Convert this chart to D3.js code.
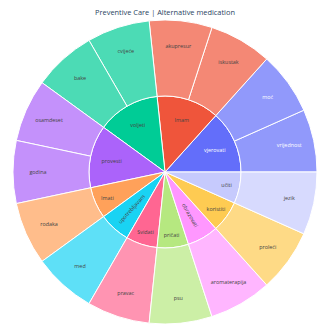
<!DOCTYPE html>
<html>
<head>
<meta charset="utf-8">
<script src="https://cdn.jsdelivr.net/npm/d3@7"></script>
<style>
    body { margin: 0; background: #fff; }
    svg { display: block; font-family: "Open Sans", verdana, arial, sans-serif; }
</style>
</head>
<body>
<div id="chart"></div>
<script>
// inner ring, in drawing order (counterclockwise from 3 o'clock)
const parents = ["vjerovati", "Imam", "voljeti", "provesti", "Imati", "upotrebljavam",
    "Svidati", "pričati", "obrazovati", "koristiti", "učiti"];
// outer ring leaves, one list per parent
const leaves = [
    ["vrijednost", "moć"],
    ["iskustak", "akupresur"],
    ["cvijeće", "bake"],
    ["osamdeset", "godina"],
    ["rodaka"],
    ["med"],
    ["pravac"],
    ["psu"],
    ["aromaterapija"],
    ["proleći"],
    ["jezik"]
];
const leafValues = [
    [1, 1], [1, 1], [1, 1], [1, 1], [1], [1], [1], [1], [1], [1], [1]
];
const colorway = ["#636efa", "#EF553B", "#00cc96", "#ab63fa", "#FFA15A", "#19d3f3",
    "#FF6692", "#B6E880", "#FF97FF", "#FECB52", "#c6cafd"];
const title = "Preventive Care | Alternative medication";

const width = 330, height = 330;
const cx = 165, cy = 172, radius = 152;

const svg = d3.select("#chart").append("svg")
    .attr("width", width)
    .attr("height", height);

svg.append("text")
    .attr("x", width / 2)
    .attr("y", 15)
    .attr("text-anchor", "middle")
    .attr("fill", "#2a3f5f")
    .style("font-size", "7.4px")
    .text(title);

const treeData = {
    name: "root",
    children: parents.map((p, i) => ({
        name: p,
        color: colorway[i],
        children: leaves[i].map((l, j) => ({ name: l, value: leafValues[i][j] }))
    }))
};

const root = d3.hierarchy(treeData).sum(d => d.value || 0);
d3.partition().size([2 * Math.PI, 3])(root);

const ring = d3.scaleLinear().domain([1, 3]).range([0, radius]);

// partition x is counterclockwise from 3 o'clock; d3.arc wants clockwise from 12
const arc = d3.arc()
    .startAngle(d => Math.PI / 2 - d.x1)
    .endAngle(d => Math.PI / 2 - d.x0)
    .innerRadius(d => ring(d.y0))
    .outerRadius(d => ring(d.y1));

const nodes = root.descendants().filter(d => d.depth > 0);
nodes.forEach(d => {
    d.baseColor = d.depth === 1 ? d.data.color : d.parent.data.color;
});

const g = svg.append("g").attr("transform", `translate(${cx},${cy})`);

g.selectAll("path")
    .data(nodes)
    .enter()
    .append("path")
    .attr("d", arc)
    .attr("fill", d => d.baseColor)
    .attr("fill-opacity", d => d.depth === 2 ? 0.7 : 1)
    .attr("stroke", "#fff")
    .attr("stroke-width", 1);

function textColor(c) {
    const rgb = d3.rgb(c);
    const bright = (rgb.r * 299 + rgb.g * 587 + rgb.b * 114) / 1000;
    return bright < 128 ? "#fff" : "#444";
}

const labels = g.selectAll("text")
    .data(nodes)
    .enter()
    .append("text")
    .attr("text-anchor", "middle")
    .attr("dy", "0.35em")
    .attr("fill", d => textColor(d.baseColor))
    .style("font-size", "5.4px")
    .text(d => d.data.name);

labels.each(function (d) {
    const w = this.getComputedTextLength();
    const mid = (d.x0 + d.x1) / 2;
    let r, rot = 0;
    if (d.depth === 2) {
        r = 127;
    } else if (d.children.length > 1) {
        r = 54.5;
    } else if (w > 24) {
        r = 50;
        rot = -mid * 180 / Math.PI;
        while (rot <= -90) rot += 180;
        while (rot > 90) rot -= 180;
    } else {
        r = 63;
    }
    const x = r * Math.cos(mid), y = -r * Math.sin(mid);
    d3.select(this).attr("transform", `translate(${x},${y}) rotate(${rot})`);
});
</script>
</body>
</html>
